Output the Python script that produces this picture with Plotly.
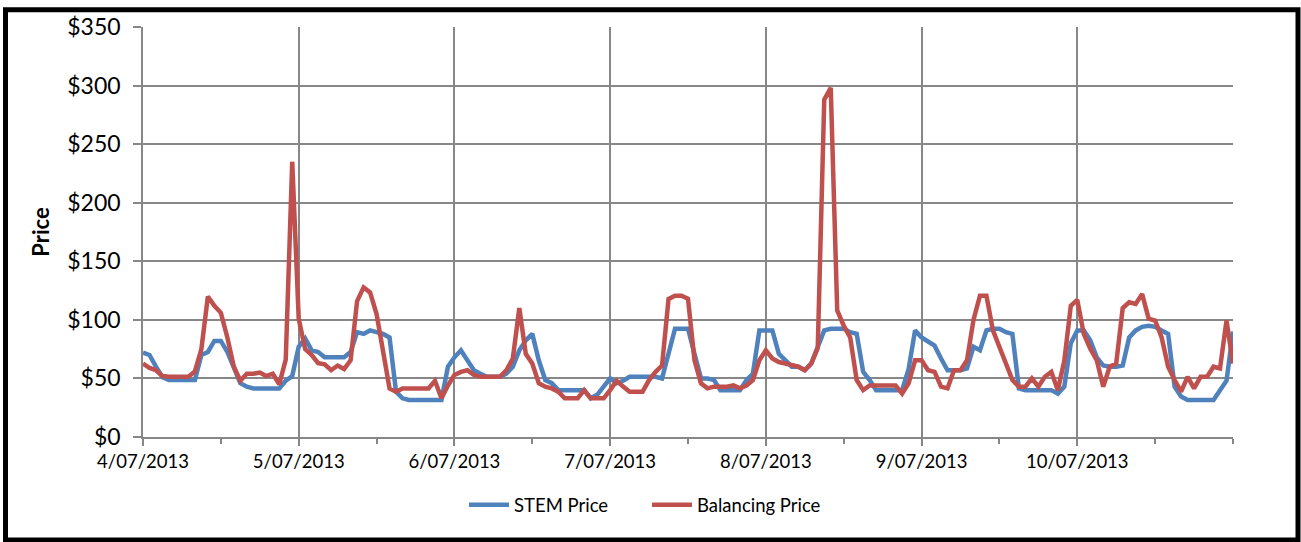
import pandas as pd
import plotly.graph_objects as go

# hourly readings, 4/07/2013 00:00 to 11/07/2013 00:00
stem_price = [
    # 4/07
    72, 70, 60, 51, 48.6, 48.6, 48.6, 48.6, 48.6, 70, 72.6, 82, 82, 72.6, 60, 46, 43, 41.5, 41.5, 41.5, 41.5, 41.5, 48, 52,
    # 5/07
    77, 84, 74, 72.6, 68, 68, 68, 68, 72.6, 89.5, 88, 91, 89.5, 88, 85, 38.7, 33, 31.6, 31.6, 31.6, 31.6, 31.6, 31.6, 60,
    # 6/07
    68, 74, 65.5, 57, 54, 51.4, 51.4, 51.4, 54, 60, 74, 82.5, 88, 65.5, 48.6, 46, 40, 40, 40, 40, 40, 33, 36, 43,
    # 7/07
    50, 46, 48, 51.4, 51.4, 51.4, 51.4, 51.4, 50, 71, 92.4, 92.4, 92.4, 71, 50, 50, 48.6, 40, 40, 40, 40, 48.6, 54, 91,
    # 8/07
    91, 91, 71, 65.5, 60, 60, 57, 62.7, 77, 91, 92.4, 92.4, 92.4, 89.5, 88, 55.6, 48.6, 40, 40, 40, 40, 40, 58, 91,
    # 9/07
    85, 81, 78, 67, 57, 57, 57, 58.5, 77, 74, 91, 92.4, 92.4, 89.5, 88, 41.5, 40, 40, 40, 40, 40, 37, 43, 80,
    # 10/07
    91, 91, 82.5, 68, 61, 60, 60, 61, 85, 91, 94, 95, 94, 91, 88, 43, 34.5, 31.6, 31.6, 31.6, 31.6, 31.6, 40, 48,
    # 11/07 00:00
    90,
]
balancing_price = [
    # 4/07
    62.7, 59, 57, 52, 51.4, 51.4, 51.4, 51.4, 56, 75, 120, 112, 106, 85, 60, 48, 54, 54, 55, 52, 54, 45, 66, 235,
    # 5/07
    101, 75, 70, 63, 62, 57, 61, 58, 65.5, 116, 127.7, 123.4, 105, 74, 41.5, 38.7, 41.5, 41.5, 41.5, 41.5, 41.5, 48, 33, 44,
    # 6/07
    53, 55.6, 57, 53, 51.4, 51.4, 51.4, 51.4, 57, 67, 110, 71, 62.7, 46, 43, 41.5, 38.7, 33, 33, 33, 40, 33, 33, 33,
    # 7/07
    40, 48, 43, 38.7, 38.7, 38.7, 48.6, 55.6, 61, 117.8, 120.6, 120.6, 118, 65.5, 45.8, 41.5, 43, 43, 43, 44, 41.5, 44, 48.6, 65.5,
    # 8/07
    74, 67, 64, 62.7, 61, 60, 57, 62.7, 76, 288, 298, 108, 95, 85, 48.6, 40, 44, 44, 44, 44, 44, 37, 45.8, 65.5,
    # 9/07
    65.5, 57, 55.6, 43, 41.5, 57, 57, 65.5, 100, 120.6, 120.6, 91, 77, 62.7, 48.6, 43, 43, 50, 43, 51.4, 55.6, 40, 65, 112,
    # 10/07
    117, 88, 75.4, 65.5, 43, 60, 62.7, 110, 115, 113.6, 122, 101, 99.4, 85, 60, 48.6, 38.7, 51.4, 41.5, 51.4, 51.4, 60, 58.5, 99.4,
    # 11/07 00:00
    62.7,
]
times = pd.date_range("2013-07-04 00:00", periods=len(stem_price), freq="h")

day_ticks = pd.date_range("2013-07-04", "2013-07-11", freq="D")
day_labels = [f"{d.day}/{d.month:02d}/{d.year}" for d in day_ticks[:-1]] + [""]
half_day_ticks = pd.date_range("2013-07-04", "2013-07-11", freq="12h")

FONT = "Lato, Carlito, Calibri, sans-serif"
GRID = "#878787"

fig = go.Figure()
fig.add_trace(go.Scatter(
    x=times, y=stem_price, mode="lines", name="STEM Price",
    line={"color": "#4F81BD", "width": 4.5},
))
fig.add_trace(go.Scatter(
    x=times, y=balancing_price, mode="lines", name="Balancing Price",
    line={"color": "#C0504D", "width": 4.5},
))

fig.update_xaxes(
    range=[day_ticks[0], day_ticks[-1]],
    tickvals=day_ticks,
    ticktext=day_labels,
    ticks="outside",
    ticklen=7,
    tickcolor=GRID,
    tickwidth=1.5,
    showgrid=True,
    gridcolor=GRID,
    gridwidth=1.5,
    showline=True,
    linecolor=GRID,
    linewidth=1.5,
    zeroline=False,
    tickfont={"family": FONT, "size": 18.5, "color": "#000000"},
    minor={"tickvals": half_day_ticks, "ticks": "outside", "ticklen": 5,
           "tickcolor": GRID, "tickwidth": 1.5, "showgrid": False},
)
fig.update_yaxes(
    range=[0, 350],
    dtick=50,
    tickprefix="$",
    ticks="outside",
    ticklen=8,
    tickcolor=GRID,
    tickwidth=1.5,
    showgrid=True,
    gridcolor=GRID,
    gridwidth=1.5,
    showline=True,
    linecolor=GRID,
    linewidth=1.5,
    zeroline=False,
    ticklabelstandoff=8,
    tickfont={"family": FONT, "size": 23, "color": "#000000"},
    title={"text": "<b>Price</b>", "font": {"family": FONT, "size": 22, "color": "#000000"},
           "standoff": 12},
)

# black frame round the whole chart
l, r, t, b = 143, 68, 23, 105
pw, ph = 1301 - l - r, 542 - t - b
fig.add_shape(
    type="rect", xref="paper", yref="paper",
    x0=(5.5 - l) / pw, x1=(1298 - l) / pw,
    y0=(ph + t - 541) / ph, y1=(ph + t - 5.5) / ph,
    line={"color": "#000000", "width": 5},
    fillcolor="rgba(0,0,0,0)",
)

fig.update_layout(
    width=1301,
    height=542,
    autosize=False,
    margin={"l": l, "r": r, "t": t, "b": b},
    paper_bgcolor="#FFFFFF",
    plot_bgcolor="#FFFFFF",
    font={"family": FONT, "color": "#000000"},
    showlegend=True,
    legend={
        "orientation": "h",
        "x": (647 - l) / pw,
        "xanchor": "center",
        "y": (ph + t - 506) / ph,
        "yanchor": "middle",
        "font": {"family": FONT, "size": 18.5, "color": "#000000"},
        "entrywidth": 128,
        "itemwidth": 40,
    },
)

fig.write_html(
    "out.html",
    config={"displayModeBar": False},
    post_script="document.body.style.margin='0';",
)
